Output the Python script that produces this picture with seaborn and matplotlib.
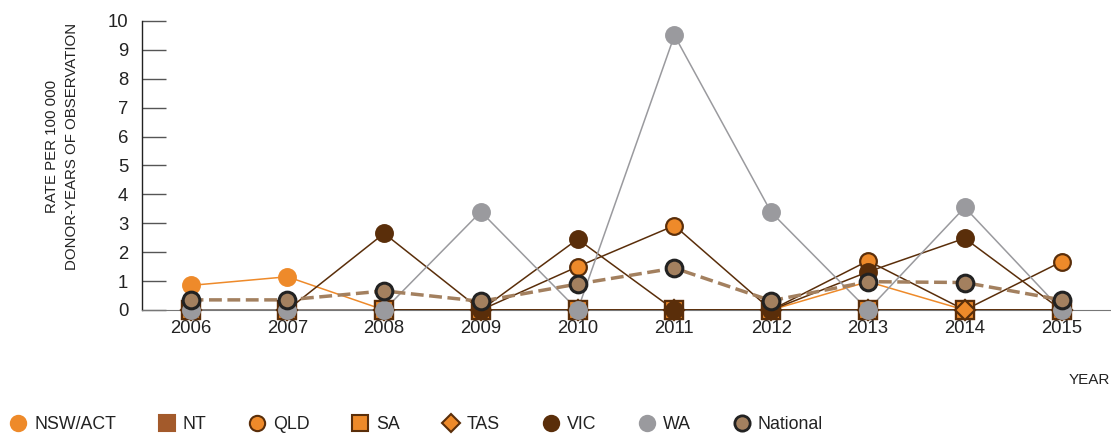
import matplotlib
matplotlib.use("Agg")
import matplotlib.pyplot as plt
import seaborn as sns
from matplotlib.lines import Line2D

# === data ===
years = [2006, 2007, 2008, 2009, 2010, 2011, 2012, 2013, 2014, 2015]
nsw_act = [0.85, 1.15, 0, 0, 0, 0, 0, 0.98, 0, 0]
nt = [0, 0, 0, 0, 0, 0, 0, 0, 0, 0]
qld = [0, 0, 0, 0, 1.5, 2.92, 0, 1.7, 0, 1.67]
sa = [0, 0, 0, 0, 0, 0, 0, 0, 0, 0]
tas = [0, 0, 0, 0, 0, 0, 0, 0, 0, 0]
vic = [0, 0, 2.65, 0, 2.45, 0, 0, 1.32, 2.48, 0]
wa = [0, 0, 0, 3.4, 0, 9.5, 3.38, 0, 3.55, 0]
national = [0.35, 0.35, 0.66, 0.3, 0.9, 1.45, 0.32, 0.98, 0.95, 0.35]

ORANGE = "#ee8a2a"
DARK = "#5a2e0a"
NTBROWN = "#a35a2b"
GREY = "#9a9a9e"
NATFILL = "#a3805f"

# name, values, marker, face, edge, line colour, line style, line width
series = [
    ("NSW/ACT", nsw_act, "o", ORANGE, ORANGE, ORANGE, "-", 1.1),
    ("NT", nt, "s", NTBROWN, NTBROWN, "#9a6a40", "-", 2.0),
    ("QLD", qld, "o", ORANGE, DARK, DARK, "-", 1.1),
    ("SA", sa, "s", ORANGE, DARK, DARK, "-", 1.1),
    ("TAS", tas, "D", ORANGE, DARK, DARK, "-", 1.1),
    ("VIC", vic, "o", DARK, DARK, DARK, "-", 1.1),
    ("WA", wa, "o", GREY, GREY, GREY, "-", 1.1),
    ("National", national, "o", NATFILL, "#222222", "#a3805f", "--", 2.5),
]

sns.set_style("white")
plt.rcParams["font.family"] = ["Liberation Sans", "DejaVu Sans"]

fig = plt.figure(figsize=(11.11, 4.36), dpi=100)
ax = fig.add_axes([0.128, 0.289, 0.871, 0.663])

for i, (name, vals, mk, fc, ec, lc, ls, lw) in enumerate(series):
    sns.lineplot(x=years, y=vals, ax=ax, color=lc, linestyle=ls, linewidth=lw,
                 zorder=2 + i * 0.1)
    ms = {"o": 12, "s": 12.5, "D": 10}[mk]
    ax.plot(years, vals, linestyle="none", marker=mk, markersize=ms,
            markerfacecolor=fc, markeredgecolor=ec,
            markeredgewidth=2.2 if name == "National" else 1.6,
            zorder=3 + i * 0.1, clip_on=False)

ax.set_xlim(2005.5, 2015.5)
ax.set_ylim(0, 10)
ax.set_xticks(years)
ax.set_yticks(range(0, 11))
ax.tick_params(axis="y", left=True, direction="in", length=17, width=1,
               color="#555555", labelsize=13.3, pad=10)
ax.tick_params(axis="x", bottom=False, length=0, labelsize=13.3, pad=7)
for t in ax.get_xticklabels() + ax.get_yticklabels():
    t.set_color("#222222")

sns.despine(ax=ax, top=True, right=True)
ax.spines["left"].set_color("#222222")
ax.spines["bottom"].set_color("#777777")
ax.spines["left"].set_linewidth(1)

fig.text(0.056, 0.665, "RATE PER 100 000\nDONOR-YEARS OF OBSERVATION",
         rotation=90, ha="center", va="center", fontsize=10.8,
         color="#222222", linespacing=1.5)
fig.text(0.999, 0.128, "YEAR", ha="right", va="center", fontsize=11,
         color="#222222")

handles = []
for name, vals, mk, fc, ec, lc, ls, lw in series:
    handles.append(Line2D([], [], linestyle="none", marker=mk,
                          markersize=11 if mk != "D" else 9,
                          markerfacecolor=fc, markeredgecolor=ec,
                          markeredgewidth=2 if name == "National" else 1.5,
                          label=name))
fig.legend(handles=handles, loc="lower left", bbox_to_anchor=(-0.006, -0.03),
           ncol=8, frameon=False, fontsize=12.8, handletextpad=0.4,
           columnspacing=2.35, handlelength=1.0, labelcolor="#222222")

fig.savefig("out.png", dpi=100)
